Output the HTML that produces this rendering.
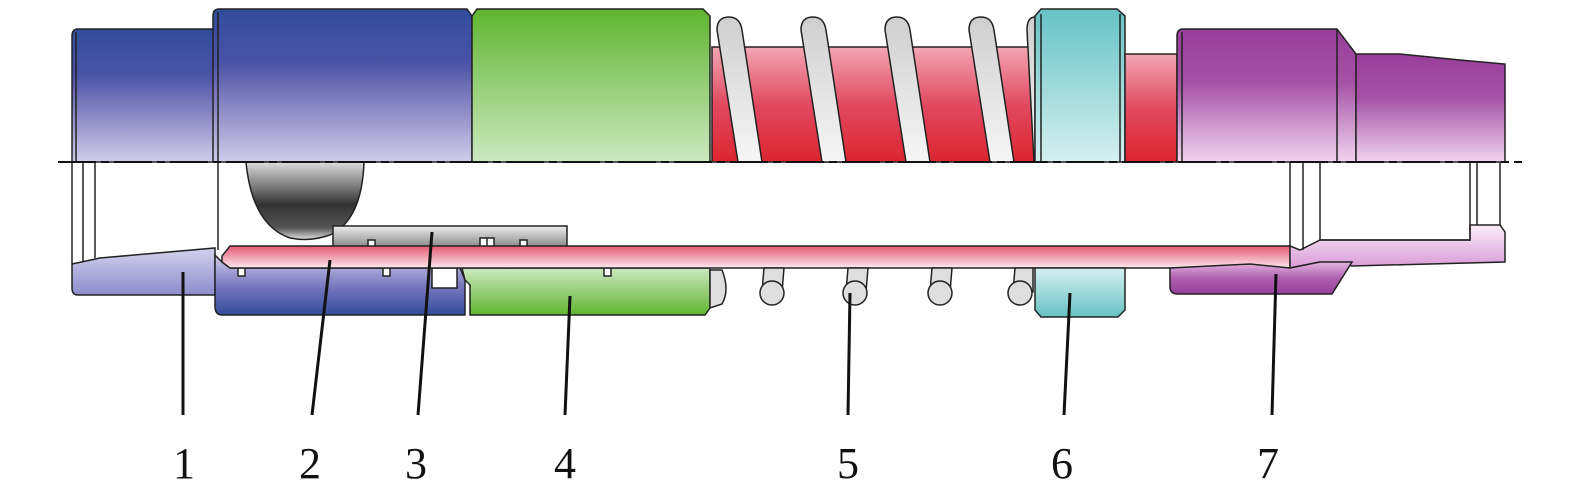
<!DOCTYPE html>
<html><head><meta charset="utf-8"><style>html,body{margin:0;padding:0;background:#fff}svg{display:block}</style></head>
<body>
<svg width="1575" height="502" viewBox="0 0 1575 502" xmlns="http://www.w3.org/2000/svg">
<defs>
<linearGradient id="bT" x1="0" y1="0" x2="0" y2="1"><stop offset="0" stop-color="#324c9c"/><stop offset="0.35" stop-color="#4b53a6"/><stop offset="0.65" stop-color="#8c88c4"/><stop offset="1" stop-color="#d0cdea"/></linearGradient>
<linearGradient id="bB" x1="0" y1="0" x2="0" y2="1"><stop offset="0" stop-color="#cfcdec"/><stop offset="0.5" stop-color="#7c7ac0"/><stop offset="1" stop-color="#324c9c"/></linearGradient>
<linearGradient id="lB" x1="0" y1="0" x2="0" y2="1"><stop offset="0" stop-color="#d4d2ee"/><stop offset="1" stop-color="#8e8ccc"/></linearGradient>
<linearGradient id="gT" x1="0" y1="0" x2="0" y2="1"><stop offset="0" stop-color="#60b530"/><stop offset="1" stop-color="#cce8c0"/></linearGradient>
<linearGradient id="gB" x1="0" y1="0" x2="0" y2="1"><stop offset="0" stop-color="#cce8c0"/><stop offset="1" stop-color="#60b530"/></linearGradient>
<linearGradient id="rT" x1="0" y1="0" x2="0" y2="1"><stop offset="0" stop-color="#f2a6b4"/><stop offset="0.5" stop-color="#e04a60"/><stop offset="1" stop-color="#dc2530"/></linearGradient>
<linearGradient id="rTube" x1="0" y1="0" x2="0" y2="1"><stop offset="0" stop-color="#e35a72"/><stop offset="1" stop-color="#fde8ee"/></linearGradient>
<linearGradient id="cT" x1="0" y1="0" x2="0" y2="1"><stop offset="0" stop-color="#66c2c4"/><stop offset="1" stop-color="#d6f0f0"/></linearGradient>
<linearGradient id="cB" x1="0" y1="0" x2="0" y2="1"><stop offset="0" stop-color="#d6f0f0"/><stop offset="1" stop-color="#66c2c4"/></linearGradient>
<linearGradient id="pT" x1="0" y1="0" x2="0" y2="1"><stop offset="0" stop-color="#983e9a"/><stop offset="0.4" stop-color="#a551a6"/><stop offset="1" stop-color="#f0d4ee"/></linearGradient>
<linearGradient id="pB" x1="0" y1="0" x2="0" y2="1"><stop offset="0" stop-color="#e4b8e2"/><stop offset="0.5" stop-color="#b060b0"/><stop offset="1" stop-color="#983e9a"/></linearGradient>
<linearGradient id="pL" x1="0" y1="0" x2="0" y2="1"><stop offset="0" stop-color="#fbeefa"/><stop offset="1" stop-color="#d89ad6"/></linearGradient>
<linearGradient id="ball" x1="0" y1="0" x2="0" y2="1"><stop offset="0" stop-color="#dcdcdc"/><stop offset="0.55" stop-color="#333"/><stop offset="0.85" stop-color="#555"/><stop offset="1" stop-color="#e0e0e0"/></linearGradient>
<linearGradient id="gray" x1="0" y1="0" x2="0" y2="1"><stop offset="0" stop-color="#eeeeee"/><stop offset="1" stop-color="#888"/></linearGradient>
<linearGradient id="coil" x1="0" y1="0" x2="0" y2="1"><stop offset="0" stop-color="#cfcfcf"/><stop offset="1" stop-color="#f6f6f6"/></linearGradient>
</defs>
<g stroke="#222" stroke-width="1.5">
<path d="M72,36 Q72,29 78,29 L215,29 L215,162 L72,162 Z" fill="url(#bT)"/>
<line x1="76" y1="32" x2="76" y2="162"/>
<path d="M213,16 Q213,9 219,9 L467,9 L472,16 L472,162 L213,162 Z" fill="url(#bT)"/>
<line x1="218" y1="12" x2="218" y2="162"/>
<path d="M472,16 L477,9 L703,9 L710,16 L710,162 L472,162 Z" fill="url(#gT)"/>
<rect x="712" y="47" width="323" height="115" fill="url(#rT)"/>
<g fill="url(#coil)">
<path d="M717,30 Q717,17 729,17 Q740,17 742,30 L762,162 L738,162 Z"/>
<path d="M801,30 Q801,17 813,17 Q824,17 826,30 L846,162 L822,162 Z"/>
<path d="M885,30 Q885,17 897,17 Q908,17 910,30 L930,162 L906,162 Z"/>
<path d="M969,30 Q969,17 981,17 Q992,17 994,30 L1014,162 L990,162 Z"/>
<path d="M1027,30 Q1027,17 1035,17 L1035,162 L1034,162 Z"/>
</g>
<path d="M1035,16 L1041,9 L1117,9 L1125,16 L1125,162 L1035,162 Z" fill="url(#cT)"/>
<line x1="1041" y1="14" x2="1041" y2="162"/><line x1="1120" y1="14" x2="1120" y2="162"/>
<rect x="1125" y="54" width="52" height="108" fill="url(#rT)"/>
<path d="M1177,36 Q1177,29 1183,29 L1337,29 L1356,54 L1356,162 L1177,162 Z" fill="url(#pT)"/>
<line x1="1182" y1="32" x2="1182" y2="162"/><line x1="1337" y1="29" x2="1337" y2="162"/>
<path d="M1356,54 L1400,54 L1460,60 L1505,64 L1505,162 L1356,162 Z" fill="url(#pT)"/>
<!-- part 1 lower -->
<path d="M72,264 L100,258 L215,248 L215,295 L78,295 Q72,295 72,288 Z" fill="url(#lB)"/>
<line x1="72" y1="162" x2="72" y2="264"/>
<line x1="83" y1="162" x2="83" y2="262"/>
<line x1="95" y1="162" x2="95" y2="258"/>
<path d="M215,255 L222,262 L230,268 L460,268 L465,280 L465,315 L222,315 Q215,315 215,306 Z" fill="url(#bB)"/>
<line x1="218" y1="162" x2="218" y2="250"/>
<path d="M246,162 L364,162 Q362,220 330,235 Q310,242 290,238 Q252,225 246,162 Z" fill="url(#ball)"/>
<rect x="333" y="226" width="234" height="21" fill="url(#gray)"/>
<rect x="480" y="238" width="14" height="30" fill="#fff"/>
<line x1="487" y1="238" x2="487" y2="268"/>
<rect x="368" y="240" width="7" height="7" fill="#fff"/><rect x="520" y="240" width="7" height="7" fill="#fff"/>
<path d="M462,268 L465,280 L470,285 L470,315 L705,315 L710,308 L710,268 Z" fill="url(#gB)"/>
<rect x="432" y="268" width="25" height="20" fill="#fff"/>
<rect x="238" y="268" width="7" height="8" fill="#fff"/><rect x="383" y="268" width="7" height="8" fill="#fff"/><rect x="604" y="268" width="7" height="8" fill="#fff"/>
<path d="M222,256 L230,246 L1290,246 L1290,268 L230,268 L222,262 Z" fill="url(#rTube)"/>
<g fill="#dedede">
<path d="M710,270 L722,270 Q730,290 722,304 L710,308 Z"/>
<path d="M764,268 L784,268 L782,292 L762,292 Z"/><circle cx="772" cy="293" r="12"/>
<path d="M848,268 L868,268 L866,292 L846,292 Z"/><circle cx="855" cy="293" r="12"/>
<path d="M932,268 L952,268 L950,292 L930,292 Z"/><circle cx="940" cy="293" r="12"/>
<path d="M1015,268 L1033,268 L1033,292 L1013,292 Z"/><circle cx="1020" cy="293" r="12"/>
</g>
<path d="M1035,268 L1125,268 L1125,310 L1118,317 L1041,317 L1035,310 Z" fill="url(#cB)"/>
<path d="M1290,246 L1300,250 L1320,240 L1470,240 L1470,225 L1500,225 L1505,232 L1505,262 L1352,266 L1320,262 L1290,268 Z" fill="url(#pL)"/>
<path d="M1170,268 L1250,264 L1290,268 L1320,262 L1352,262 L1332,294 L1178,294 Q1170,294 1170,287 Z" fill="url(#pB)"/>
<path d="M1290,162 L1290,246 M1303,162 L1303,250 M1320,162 L1320,240 L1470,240 L1470,162 M1477,162 L1477,225 M1500,162 L1500,225" fill="none"/>
</g>
<line x1="58" y1="162" x2="1522" y2="162" stroke="#111" stroke-width="2" stroke-dasharray="38,5,8,5"/>
<g stroke="#111" stroke-width="3">
<line x1="183" y1="272" x2="183" y2="415"/>
<line x1="330" y1="260" x2="312" y2="415"/>
<line x1="432" y1="232" x2="418" y2="415"/>
<line x1="570" y1="296" x2="565" y2="415"/>
<line x1="850" y1="293" x2="848" y2="415"/>
<line x1="1070" y1="293" x2="1064" y2="415"/>
<line x1="1276" y1="274" x2="1272" y2="415"/>
</g>
<g font-family="'Liberation Serif',serif" font-size="44" fill="#111" text-anchor="middle">
<text x="184" y="478">1</text><text x="310" y="478">2</text><text x="416" y="478">3</text>
<text x="565" y="478">4</text><text x="848" y="478">5</text><text x="1062" y="478">6</text><text x="1268" y="478">7</text>
</g>
</svg>
</body></html>
